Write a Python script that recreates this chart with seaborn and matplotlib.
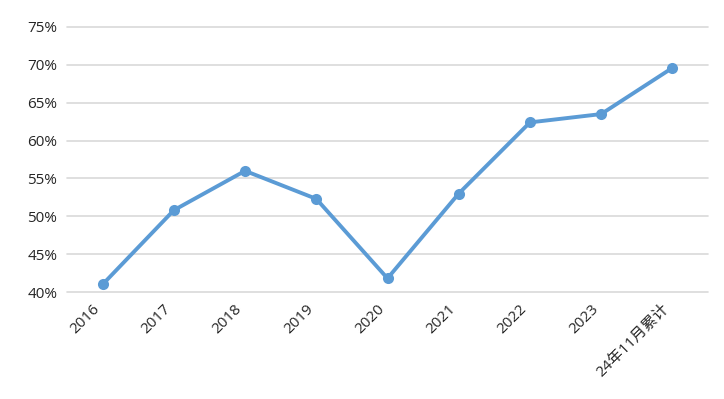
import pandas as pd
import matplotlib.pyplot as plt
import matplotlib.ticker as mticker
import seaborn as sns

categories = ['2016', '2017', '2018', '2019', '2020', '2021', '2022', '2023', '24年11月累计']
values = [41.0, 50.8, 56.0, 52.3, 41.8, 53.0, 62.4, 63.5, 69.6]
yticks = [40, 45, 50, 55, 60, 65, 70, 75]

df = pd.DataFrame({'cat': categories, 'val': values})

sns.set_theme(style="white")
plt.rcParams['font.family'] = ['Open Sans', 'Noto Sans CJK SC', 'DejaVu Sans']

fig = plt.figure(figsize=(7.24, 3.99), dpi=100)
ax = fig.add_axes([67 / 724, 1 - 292 / 399, (708 - 67) / 724, (292 - 27) / 399])

sns.lineplot(data=df, x='cat', y='val', ax=ax, sort=False, color='#5B9BD5',
             linewidth=2.8, marker='o', markersize=8, markeredgewidth=0)

ax.set_xlim(-0.5, len(categories) - 0.5)
ax.set_ylim(40, 75)
ax.set_yticks(yticks)
ax.yaxis.set_major_formatter(mticker.FuncFormatter(lambda v, p: f'{v:.0f}%'))
ax.grid(axis='y', color='#D9D9D9', linewidth=1.2)
for gl in ax.get_ygridlines():
    gl.set_clip_on(False)
ax.set_axisbelow(True)
for s in ax.spines.values():
    s.set_visible(False)
ax.set_xlabel('')
ax.set_ylabel('')
ax.tick_params(axis='y', length=0, pad=7, labelsize=11, labelcolor='#262626')
ax.tick_params(axis='x', length=0, pad=7, labelsize=11, labelcolor='#262626')
plt.setp(ax.get_xticklabels(), rotation=45, ha='right')

fig.savefig('out.png', dpi=100)
